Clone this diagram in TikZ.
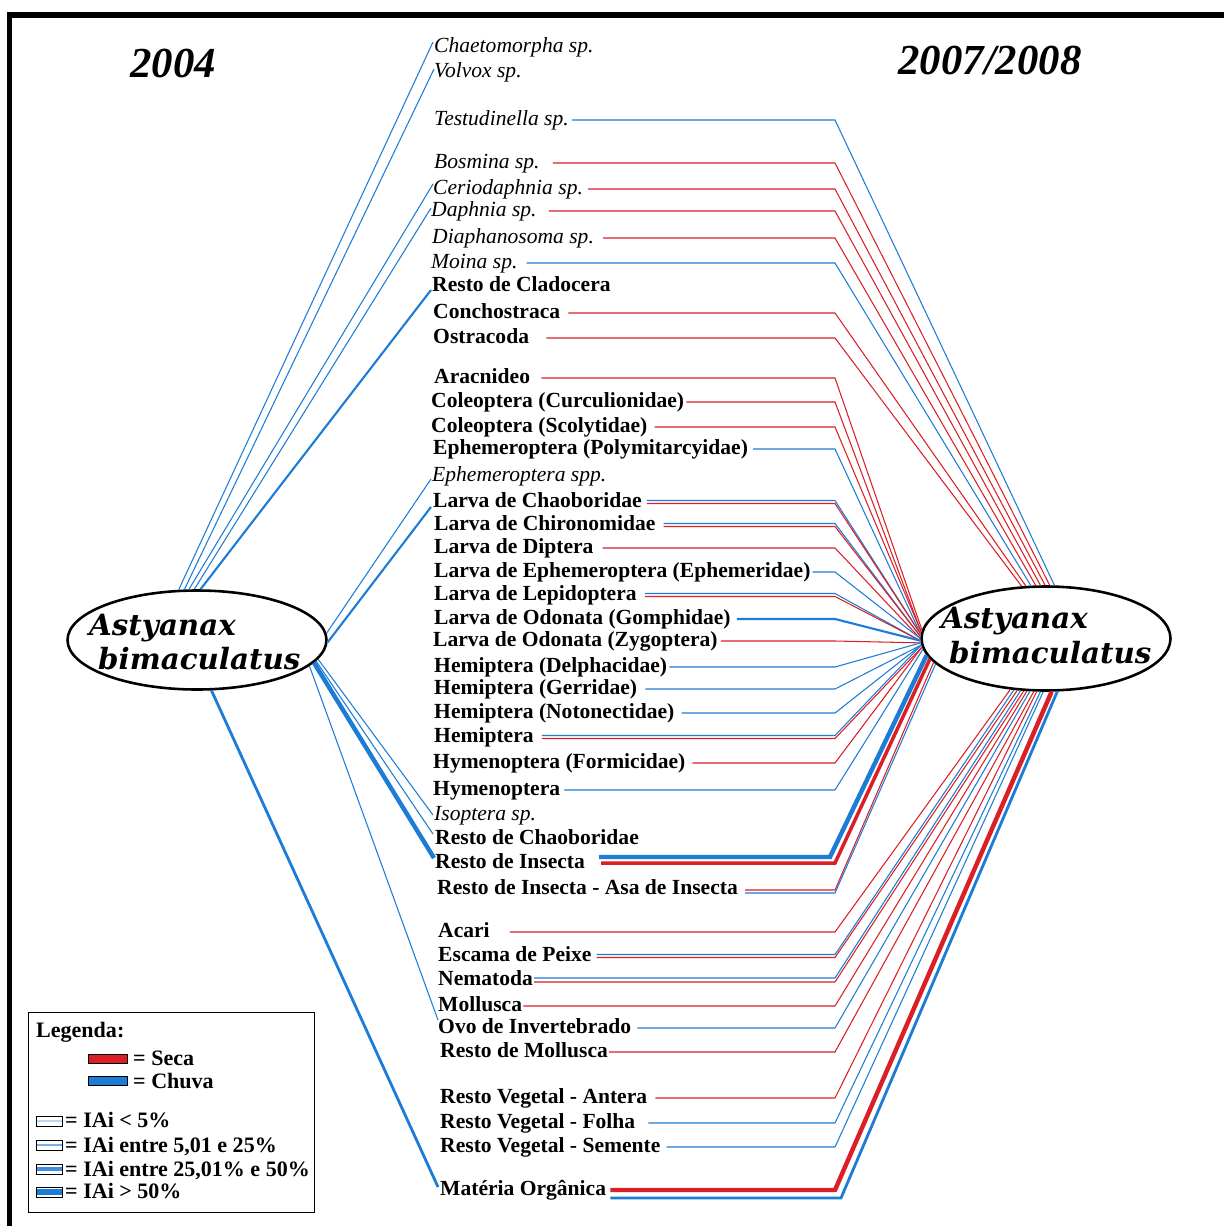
\documentclass[tikz,border=0pt]{standalone}
\usepackage{fontspec}
\setmainfont{Liberation Serif}
\newfontfamily\ellfont{DejaVu Serif}
\usetikzlibrary{shapes.geometric,calc}
\definecolor{cred}{RGB}{218,32,38}
\definecolor{cblue}{RGB}{28,124,214}
\newcommand\labf{\fontsize{18.4pt}{22pt}\selectfont\bfseries}
\newcommand\labif{\fontsize{18.4pt}{22pt}\selectfont\itshape}
\newcommand\legf{\fontsize{18.8pt}{22pt}\selectfont\bfseries}
\newcommand\ellf{\ellfont\fontsize{25pt}{29pt}\selectfont\bfseries\itshape}
% right-hand connector: style, label, gap, vertical offset, bend coordinate, border angle
\newcommand\rlink[6]{%
  \coordinate (rs) at ([shift={(#3,#4)}]#2.base west -| #2.base east);
  \draw[#1] (rs) -- (rs -| #5) -- (R.#6);}
% left-hand connector: style, border angle, label, dx, dy
\newcommand\llink[5]{%
  \draw[#1] (L.#2) -- ([shift={(#4,#5)}]#3.base west);}
\begin{document}
\begin{tikzpicture}[x=0.03cm,y=-0.03cm,
  lab/.style={anchor=base west,inner sep=0pt,font=\labf},
  labi/.style={anchor=base west,inner sep=0pt,font=\labif},
  lgd/.style={anchor=base west,inner sep=0pt,font=\legf},
  ttl/.style={anchor=base,inner sep=0pt,font=\fontsize{36.5pt}{40pt}\selectfont\bfseries\itshape},
  ell/.style={ellipse,draw=black,line width=2.2pt,fill=white,inner sep=0pt},
  elltext/.style={anchor=base west,inner sep=0pt,font=\ellf},
  lr/.style={draw=cred,line width=0.9pt},
  lb/.style={draw=cblue,line width=0.9pt},
  lbm/.style={draw=cblue,line width=1.8pt},
  lbn/.style={draw=cblue,line width=2.4pt},
  lbk/.style={draw=cblue,line width=3.8pt},
  lrm/.style={draw=cred,line width=3pt},
  lrk/.style={draw=cred,line width=3.8pt},
  swatch/.style={draw=black,line width=0.8pt,inner sep=0pt,minimum width=1.17cm,minimum height=0.28cm},
  ibox/.style={draw=black,line width=0.8pt,fill=white,inner sep=0pt,minimum width=0.8cm,minimum height=0.3cm}]
\useasboundingbox[fill=white] (0,0) rectangle (1223,1226);

% frame
\draw[line width=5.1pt] (9.5,1240) -- (9.5,15) -- (1240,15);

% year headings
\node[ttl] (y1) at (173,77) {2004};
\node[ttl] (y2) at (990,74) {2007/2008};

% the fish, in both periods
\node[ell,minimum width=7.77cm,minimum height=2.97cm] (L) at (197,640) {};
\node[elltext] (La) at (89,635) {Astyanax};
\node[elltext] (Lb) at (98,669) {bimaculatus};
\node[ell,minimum width=7.47cm,minimum height=3.12cm] (R) at (1046,638.5) {};
\node[elltext] (Ra) at (941,628) {Astyanax};
\node[elltext] (Rb) at (949,663) {bimaculatus};

% food items
\node[labi] (t1) at (434,52) {Chaetomorpha sp.};
\node[labi] (t2) at (434,77) {Volvox sp.};
\node[labi] (t3) at (434,125) {Testudinella sp.};
\node[labi] (t4) at (434,168) {Bosmina sp.};
\node[labi] (t5) at (433,194) {Ceriodaphnia sp.};
\node[labi] (t6) at (431,216) {Daphnia sp.};
\node[labi] (t7) at (432,243) {Diaphanosoma sp.};
\node[labi] (t8) at (431,268) {Moina sp.};
\node[lab] (t9) at (432,291) {Resto de Cladocera};
\node[lab] (t10) at (433,318) {Conchostraca};
\node[lab] (t11) at (433,343) {Ostracoda};
\node[lab] (t12) at (434,383) {Aracnideo};
\node[lab] (t13) at (431,407) {Coleoptera (Curculionidae)};
\node[lab] (t14) at (431,432) {Coleoptera (Scolytidae)};
\node[lab] (t15) at (433,454) {Ephemeroptera (Polymitarcyidae)};
\node[labi] (t16) at (432,481) {Ephemeroptera spp.};
\node[lab] (t17) at (433,507) {Larva de Chaoboridae};
\node[lab] (t18) at (434,530) {Larva de Chironomidae};
\node[lab] (t19) at (434,553) {Larva de Diptera};
\node[lab] (t20) at (434,577) {Larva de Ephemeroptera (Ephemeridae)};
\node[lab] (t21) at (434,600) {Larva de Lepidoptera};
\node[lab] (t22) at (434,624) {Larva de Odonata (Gomphidae)};
\node[lab] (t23) at (433,646) {Larva de Odonata (Zygoptera)};
\node[lab] (t24) at (434,672) {Hemiptera (Delphacidae)};
\node[lab] (t25) at (434,694) {Hemiptera (Gerridae)};
\node[lab] (t26) at (434,718) {Hemiptera (Notonectidae)};
\node[lab] (t27) at (434,742) {Hemiptera};
\node[lab] (t28) at (433,768) {Hymenoptera (Formicidae)};
\node[lab] (t29) at (433,795) {Hymenoptera};
\node[labi] (t30) at (434,820) {Isoptera sp.};
\node[lab] (t31) at (435,844) {Resto de Chaoboridae};
\node[lab] (t32) at (435,868) {Resto de Insecta};
\node[lab] (t33) at (437,894) {Resto de Insecta - Asa de Insecta};
\node[lab] (t34) at (438,937) {Acari};
\node[lab] (t35) at (438,961) {Escama de Peixe};
\node[lab] (t36) at (438,985) {Nematoda};
\node[lab] (t37) at (438,1011) {Mollusca};
\node[lab] (t38) at (438,1033) {Ovo de Invertebrado};
\node[lab] (t39) at (440,1057) {Resto de Mollusca};
\node[lab] (t40) at (440,1103) {Resto Vegetal - Antera};
\node[lab] (t41) at (440,1128) {Resto Vegetal - Folha};
\node[lab] (t42) at (440,1152) {Resto Vegetal - Semente};
\node[lab] (t43) at (440,1195) {Matéria Orgânica};

% bend columns of the 2007/2008 connectors
\coordinate (bx) at (835,0);
\coordinate (bxl) at (830,0);
\coordinate (bxr) at (841,0);

% 2004 connectors
\llink{lb}{110.6}{t1}{-1}{-10}
\llink{lb}{104.4}{t2}{0}{-8}
\llink{lb}{99}{t5}{0}{-10}
\llink{lb}{93.4}{t6}{0}{-8}
\llink{lbm}{86.6}{t9}{-1}{-1}
\llink{lb}{3}{t16}{-1}{-2}
\llink{lbm}{359}{t17}{-2}{0}
\llink{lb}{351.5}{t30}{-1}{-5}
\llink{lb}{350.5}{t31}{-2}{-10}
\llink{lbk}{349}{t32}{-1}{-10}
\llink{lb}{347}{t38}{0}{-13}
\llink{lbn}{286.5}{t43}{-2}{-8}

% 2007/2008 connectors: upper group
\rlink{lb}{t3}{3}{-5}{bx}{81}
\rlink{lr}{t4}{13}{-5}{bx}{86}
\rlink{lr}{t5}{5}{-5}{bx}{91.5}
\rlink{lr}{t6}{12}{-5}{bx}{96.5}
\rlink{lr}{t7}{9}{-5}{bx}{101.5}
\rlink{lb}{t8}{9}{-5}{bx}{106.5}
\rlink{lr}{t10}{8}{-5}{bx}{111}
\rlink{lr}{t11}{17}{-5}{bx}{115.5}
% middle group
\rlink{lr}{t12}{11}{-5}{bx}{176.8}
\rlink{lr}{t13}{2}{-5}{bx}{177.2}
\rlink{lr}{t14}{7}{-5}{bx}{177.6}
\rlink{lb}{t15}{5}{-5}{bx}{178}
\rlink{lb}{t17}{5}{-6.5}{bx}{178.4}
\rlink{lr}{t17}{5}{-3.5}{bx}{178.9}
\rlink{lb}{t18}{8}{-6.5}{bx}{179.3}
\rlink{lr}{t18}{8}{-3.5}{bx}{179.7}
\rlink{lr}{t19}{9}{-5}{bx}{180.1}
\rlink{lb}{t20}{2}{-5}{bx}{180.6}
\rlink{lb}{t21}{8}{-6.5}{bx}{181}
\rlink{lr}{t21}{8}{-3.5}{bx}{181.4}
\rlink{lbm}{t22}{6}{-5}{bx}{181.8}
\rlink{lr}{t23}{3}{-5}{bx}{182.3}
\rlink{lb}{t24}{2}{-5}{bx}{182.7}
\rlink{lb}{t25}{8}{-5}{bx}{183.1}
\rlink{lb}{t26}{7}{-5}{bx}{183.5}
\rlink{lb}{t27}{8}{-6.5}{bx}{183.9}
\rlink{lr}{t27}{8}{-3.5}{bx}{184.4}
\rlink{lr}{t28}{7}{-5}{bx}{184.8}
\rlink{lb}{t29}{4}{-5}{bx}{185.2}
\rlink{lbk}{t32}{14}{-11}{bxl}{188.5}
\rlink{lrm}{t32}{16}{-5}{bx}{190.7}
\rlink{lr}{t33}{7}{-4}{bx}{192}
\rlink{lb}{t33}{7}{-1}{bx}{193.5}
% lower group
\rlink{lr}{t34}{20}{-5}{bx}{235.5}
\rlink{lb}{t35}{5}{-6.5}{bx}{238.3}
\rlink{lr}{t35}{5}{-3.5}{bx}{241.2}
\rlink{lb}{t36}{1}{-7}{bx}{244.2}
\rlink{lr}{t36}{1}{-3}{bx}{247.3}
\rlink{lr}{t37}{1}{-5}{bx}{250.6}
\rlink{lb}{t38}{6}{-5}{bx}{253.9}
\rlink{lr}{t39}{1}{-5}{bx}{257.3}
\rlink{lr}{t40}{8}{-5}{bx}{260.8}
\rlink{lb}{t41}{13}{-5}{bx}{264.3}
\rlink{lb}{t42}{6}{-5}{bx}{267.8}
\rlink{lrk}{t43}{4}{-5}{bx}{276.5}
\rlink{lbn}{t43}{4}{3}{bxr}{282.8}

% legend
\node[draw=black,line width=1.2pt,anchor=north west,inner sep=0pt,minimum width=8.58cm,minimum height=6cm] (legbox) at (28,1012) {};
\node[lgd] (lg0) at (36,1037) {Legenda:};
\node[swatch,fill=cred] (sw1) at (108,1059) {};
\node[lgd] (lg1) at (133,1065) {= Seca};
\node[swatch,fill=cblue] (sw2) at (108,1081) {};
\node[lgd] (lg2) at (133,1088) {= Chuva};
\node[ibox,path picture={\draw[cblue!30,line width=1.2pt] (path picture bounding box.west) -- (path picture bounding box.east);}] (ib1) at (49.5,1121) {};
\node[ibox,path picture={\draw[cblue!60,line width=2pt] (path picture bounding box.west) -- (path picture bounding box.east);}] (ib2) at (49.5,1145) {};
\node[ibox,path picture={\draw[cblue!85,line width=3pt] (path picture bounding box.west) -- (path picture bounding box.east);}] (ib3) at (49.5,1169) {};
\node[ibox,path picture={\draw[cblue,line width=4.6pt] (path picture bounding box.west) -- (path picture bounding box.east);}] (ib4) at (49.5,1192) {};
\node[lgd] (li1) at (65,1127) {= IAi < 5\%};
\node[lgd] (li2) at (65,1152) {= IAi entre 5,01 e 25\%};
\node[lgd] (li3) at (65,1176) {= IAi entre 25,01\% e 50\%};
\node[lgd] (li4) at (65,1198) {= IAi > 50\%};
\end{tikzpicture}
\end{document}
